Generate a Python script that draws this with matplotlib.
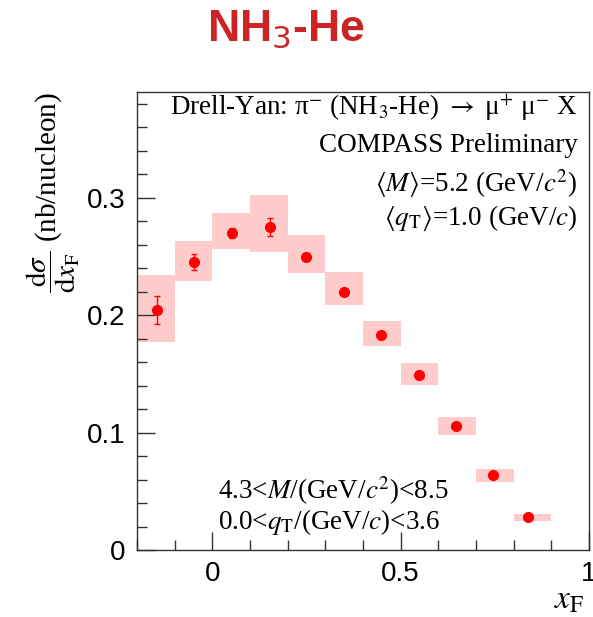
import matplotlib
matplotlib.use("Agg")
import matplotlib.pyplot as plt
from matplotlib.ticker import MultipleLocator

# --- data ---
bin_lo = [-0.2, -0.1, 0.0, 0.1, 0.2, 0.3, 0.4, 0.5, 0.6, 0.7, 0.8]
xf = [-0.146, -0.048, 0.053, 0.152, 0.250, 0.351, 0.449, 0.548, 0.646, 0.745, 0.838]
xsec = [0.204, 0.245, 0.270, 0.275, 0.2495, 0.2197, 0.183, 0.149, 0.1054, 0.0637, 0.0279]
stat_err = [0.012, 0.007, 0.004, 0.008, 0.003, 0.002, 0.002, 0.002, 0.001, 0.001, 0.001]
sys_low = [0.177, 0.229, 0.2566, 0.254, 0.236, 0.2086, 0.174, 0.1407, 0.098, 0.058, 0.025]
sys_high = [0.234, 0.263, 0.2867, 0.302, 0.268, 0.237, 0.195, 0.159, 0.113, 0.069, 0.0304]
bin_w = 0.1

plt.rcParams['mathtext.fontset'] = 'stix'

fig = plt.figure(figsize=(5.93, 6.17), dpi=100)
ax = fig.add_axes([0.231, 0.1086, 0.762, 0.7424])

# systematic boxes
ax.bar(bin_lo, [h - l for l, h in zip(sys_low, sys_high)], width=bin_w,
       bottom=sys_low, align='edge', color='#ffcccc', edgecolor='none', zorder=1)

# points with statistical errors
ax.errorbar(xf, xsec, yerr=stat_err, fmt='o', color='#ff0000', markersize=7,
            elinewidth=1, capsize=2, capthick=1, zorder=3)

ax.set_xlim(-0.2, 1.0)
ax.set_ylim(0, 0.39)
ax.xaxis.set_minor_locator(MultipleLocator(0.1))
ax.yaxis.set_minor_locator(MultipleLocator(0.02))
ax.tick_params(which='both', direction='in', top=False, right=False,
               color='#333333', width=1)
ax.tick_params(which='major', length=13, labelsize=20, pad=8)
ax.tick_params(which='minor', length=7)
ax.set_xticks([0, 0.5, 1])
ax.set_xticklabels(['0', '0.5', '1'], family='Liberation Sans')
ax.set_yticks([0, 0.1, 0.2, 0.3])
ax.set_yticklabels(['0', '0.1', '0.2', '0.3'], family='Liberation Sans')
for s in ax.spines.values():
    s.set_color('#333333')
    s.set_linewidth(1)

serif = 'Liberation Serif'
ax.set_ylabel(r'$\dfrac{\mathrm{d}\sigma}{\mathrm{d}x_\mathrm{F}}$ (nb/nucleon)',
              family=serif, fontsize=21, loc='top', labelpad=4)
fig.text(0.985, 0.002, r'$x_\mathrm{F}$', fontsize=24, ha='right', va='bottom')

fig.text(0.482, 0.952, r'NH$_{3}$-He', family='Liberation Sans', weight='bold',
         color='#cc2424', fontsize=32, ha='center', va='center',
         math_fontfamily='dejavusans')

fs = 19.5
ax.text(0.975, 0.965, 'Drell-Yan: π$^{-}$ (NH$_{3}$-He) $\\rightarrow$ μ$^{+}$ μ$^{-}$ X',
        transform=ax.transAxes, ha='right', va='center', family=serif, fontsize=fs)
ax.text(0.975, 0.884, 'COMPASS Preliminary', transform=ax.transAxes,
        ha='right', va='center', family=serif, fontsize=fs)
ax.text(0.975, 0.80, r'$\langle M\rangle$=5.2 (GeV/$c^{2}$)', transform=ax.transAxes,
        ha='right', va='center', family=serif, fontsize=fs)
ax.text(0.975, 0.725, r'$\langle q_\mathrm{T}\rangle$=1.0 (GeV/$c$)', transform=ax.transAxes,
        ha='right', va='center', family=serif, fontsize=fs)
ax.text(0.179, 0.13, r'4.3<$M$/(GeV/$c^{2}$)<8.5', transform=ax.transAxes,
        ha='left', va='center', family=serif, fontsize=fs)
ax.text(0.179, 0.062, r'0.0<$q_\mathrm{T}$/(GeV/$c$)<3.6', transform=ax.transAxes,
        ha='left', va='center', family=serif, fontsize=fs)

fig.savefig('out.png', dpi=100)
